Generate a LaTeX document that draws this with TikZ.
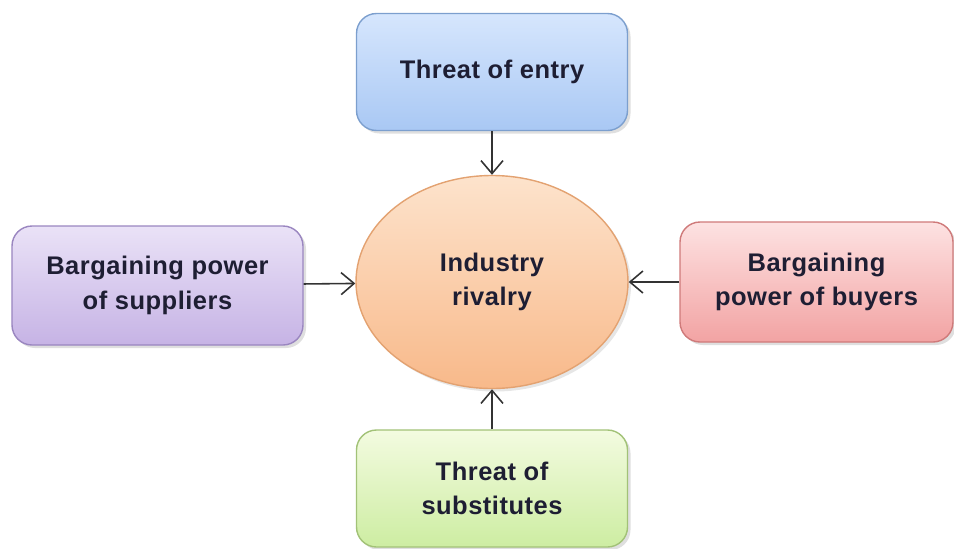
\documentclass[tikz,border=0pt]{standalone}
\usepackage{fontspec}
\setmainfont{Liberation Sans}[LetterSpace=2]
\usepackage{xcolor}
\usepackage{tikz}
\usetikzlibrary{arrows.meta, shapes.geometric, shadows}
\definecolor{txtDark}{HTML}{1E1E33}
\definecolor{arrGray}{HTML}{333333}
\definecolor{blueTop}{HTML}{D6E6FD}
\definecolor{blueBot}{HTML}{A9C8F4}
\definecolor{blueLine}{HTML}{7C9FCE}
\definecolor{violTop}{HTML}{EAE2F7}
\definecolor{violBot}{HTML}{C6B3E5}
\definecolor{violLine}{HTML}{9A86C0}
\definecolor{redTop}{HTML}{FDE2E2}
\definecolor{redBot}{HTML}{F2A3A3}
\definecolor{redLine}{HTML}{CF7A7A}
\definecolor{greenTop}{HTML}{F3FBE0}
\definecolor{greenBot}{HTML}{CDEDA2}
\definecolor{greenLine}{HTML}{A2C277}
\definecolor{orgTop}{HTML}{FDE3CC}
\definecolor{orgBot}{HTML}{F8B98A}
\definecolor{orgLine}{HTML}{E3A271}

\begin{document}
\begin{tikzpicture}[
    every node/.style={font=\fontsize{14.5}{19.5}\selectfont\bfseries, text=txtDark, align=center},
    force/.style={draw, rounded corners=4mm, line width=0.8pt,
      drop shadow={opacity=0.25, shadow xshift=0.6mm, shadow yshift=-0.6mm}},
    arr/.style={-{Straight Barb[length=2.6mm, width=4.4mm]}, line width=0.9pt, arrGray}]
  \useasboundingbox (0, 0) rectangle (19.08, -10.96);

  % centre: the rivalry
  \node[ellipse, draw=orgLine, line width=0.8pt, top color=orgTop, bottom color=orgBot,
    minimum width=5.44cm, minimum height=4.26cm,
    drop shadow={opacity=0.2, shadow xshift=0.6mm, shadow yshift=-0.6mm}]
    (rivalry) at (9.84, -5.64) {Industry\\rivalry};

  % the four forces around it
  \node[force, draw=blueLine, top color=blueTop, bottom color=blueBot,
    minimum width=5.42cm, minimum height=2.34cm]
    (entry) at (9.84, -1.44) {Threat of entry};
  \node[force, draw=violLine, top color=violTop, bottom color=violBot,
    minimum width=5.82cm, minimum height=2.38cm]
    (suppliers) at (3.15, -5.71) {Bargaining power\\of suppliers};
  \node[force, draw=redLine, top color=redTop, bottom color=redBot,
    minimum width=5.46cm, minimum height=2.40cm]
    (buyers) at (16.33, -5.64) {Bargaining\\power of buyers};
  \node[force, draw=greenLine, top color=greenTop, bottom color=greenBot,
    minimum width=5.42cm, minimum height=2.34cm]
    (substitutes) at (9.84, -9.77) {Threat of\\substitutes};

  % arrows into the centre
  \draw[arr] (entry) -- (rivalry);
  \draw[arr] (suppliers) -- (rivalry);
  \draw[arr] (buyers) -- (rivalry);
  \draw[arr] (substitutes) -- (rivalry);
\end{tikzpicture}
\end{document}
